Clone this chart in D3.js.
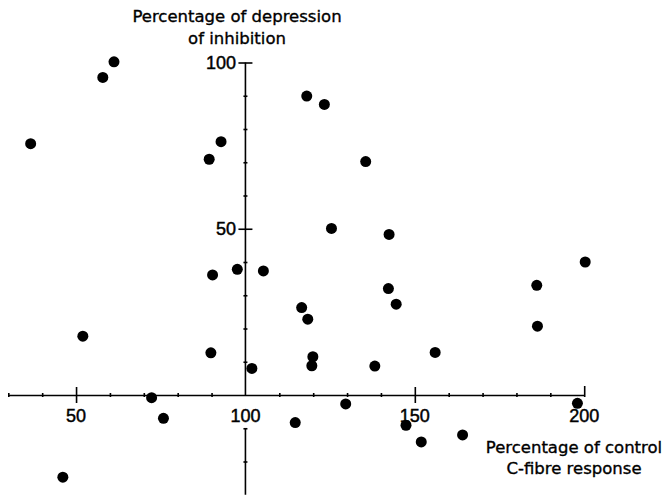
<!DOCTYPE html>
<html>
<head>
<meta charset="utf-8">
<script src="https://cdn.jsdelivr.net/npm/d3@7"></script>
<style>
  html, body { margin: 0; padding: 0; background: #fff; }
  svg { display: block; }
  .tick-label { font-family: "Liberation Sans", Arial, sans-serif; font-size: 18px; fill: #000; stroke: #000; stroke-width: 0.45px; }
  .title { font-family: "DejaVu Sans", sans-serif; font-size: 16.5px; fill: #000; stroke: #000; stroke-width: 0.35px; }
</style>
</head>
<body>
<svg id="chart" width="668" height="495"></svg>
<script>
// C-fibre response (% of control) against depression of inhibition (%)
const cFibreResponse = [
  36.6, 57.9, 61.2, 52.0, 46.1, 72.3, 75.8, 89.3, 92.8, 90.3,
  97.6, 105.3, 89.8, 101.9, 118.1, 123.3, 125.4, 116.6, 118.4, 119.9,
  119.6, 114.7, 129.6, 135.5, 142.4, 142.2, 144.5, 138.2, 156.0, 147.4,
  151.9, 164.1, 186.0, 186.2, 200.3, 198.0
];
const depressionOfInhibition = [
  75.6, 95.5, 100.2, 17.7, -24.7, -0.8, -7.0, 70.9, 76.2, 36.1,
  37.8, 37.3, 12.7, 8.0, 89.9, 87.4, 50.1, 26.3, 22.8, 11.5,
  8.8, -8.3, -2.7, 70.2, 48.3, 32.0, 27.3, 8.7, 12.8, -9.1,
  -14.1, -12.0, 33.0, 20.7, 40.0, -2.5
];

const xMinorTicks = [30, 40, 60, 70, 80, 90, 110, 120, 130, 140, 160, 170, 180, 190];
const xMajorTicks = [50, 150];
const xEndTick = [200];
const xTickLabels = [50, 100, 150, 200];
const yMinorTicks = [-20, -10, 10, 20, 30, 40, 60, 70, 80, 90];
const yMajorTicks = [50, 100];
const yTickLabels = [50, 100];
const yTitleLines = ["Percentage of depression", "of inhibition"];
const xTitleLines = ["Percentage of control", "C-fibre response"];

const svg = d3.select("#chart");

const x = d3.scaleLinear().domain([30, 200]).range([8.3, 584.2]);
const y = d3.scaleLinear().domain([-30, 100]).range([494.75, 62.5]);

const stroke = 1.6;

// ---- horizontal axis, crossing at zero ----
const xAxisG = svg.append("g").attr("transform", `translate(0,${y(0)})`);

const xMinorG = xAxisG.append("g")
  .call(d3.axisBottom(x).tickValues(xMinorTicks).tickSize(2).tickSizeOuter(0).tickFormat(""));
xMinorG.select(".domain").attr("stroke", "#000").attr("stroke-width", stroke);
xMinorG.selectAll(".tick line").attr("y1", -2).attr("stroke-width", 1.6);

const xMajorG = xAxisG.append("g")
  .call(d3.axisBottom(x).tickValues(xMajorTicks).tickSize(8).tickSizeOuter(0).tickFormat(""));
xMajorG.select(".domain").remove();
xMajorG.selectAll(".tick line").attr("y1", -8).attr("stroke-width", stroke);

const xEndG = xAxisG.append("g")
  .call(d3.axisBottom(x).tickValues(xEndTick).tickSize(2).tickSizeOuter(0).tickFormat(""));
xEndG.select(".domain").remove();
xEndG.selectAll(".tick line").attr("y1", -9).attr("stroke-width", stroke);

svg.append("g").selectAll("text")
  .data(xTickLabels)
  .join("text")
  .attr("class", "tick-label")
  .attr("x", d => x(d))
  .attr("y", y(0) + 27)
  .attr("text-anchor", "middle")
  .text(d => d);

// ---- vertical axis at 100 % of control ----
const yAxisG = svg.append("g").attr("transform", `translate(${x(100)},0)`);

// upper segment (0 to 100) and lower segment below the "100" label
yAxisG.append("line")
  .attr("x1", 0).attr("x2", 0)
  .attr("y1", y(100)).attr("y2", y(0))
  .attr("stroke", "#000").attr("stroke-width", stroke);
yAxisG.append("line")
  .attr("x1", 0).attr("x2", 0)
  .attr("y1", y(-10)).attr("y2", y(-30))
  .attr("stroke", "#000").attr("stroke-width", stroke);

const yMinorG = yAxisG.append("g")
  .call(d3.axisLeft(y).tickValues(yMinorTicks).tickSize(2).tickSizeOuter(0).tickFormat(""));
yMinorG.select(".domain").remove();
yMinorG.selectAll(".tick line").attr("x1", 2).attr("stroke-width", 1.6);

const yMajorG = yAxisG.append("g")
  .call(d3.axisLeft(y).tickValues(yMajorTicks).tickSize(7).tickSizeOuter(0).tickFormat(""));
yMajorG.select(".domain").remove();
yMajorG.selectAll(".tick line").attr("x1", 7).attr("stroke-width", stroke);

svg.append("g").selectAll("text")
  .data(yTickLabels)
  .join("text")
  .attr("class", "tick-label")
  .attr("x", x(100) - 9.5)
  .attr("y", d => y(d) + 6.2)
  .attr("text-anchor", "end")
  .text(d => d);

// ---- axis titles ----
svg.append("text")
  .attr("class", "title")
  .attr("text-anchor", "middle")
  .selectAll("tspan")
  .data(yTitleLines)
  .join("tspan")
  .attr("x", 237)
  .attr("y", (d, i) => 22 + i * 21.5)
  .text(d => d);

svg.append("text")
  .attr("class", "title")
  .attr("text-anchor", "middle")
  .selectAll("tspan")
  .data(xTitleLines)
  .join("tspan")
  .attr("x", 574)
  .attr("y", (d, i) => 453 + i * 21)
  .text(d => d);

// ---- observations ----
svg.append("g").selectAll("circle")
  .data(d3.zip(cFibreResponse, depressionOfInhibition))
  .join("circle")
  .attr("cx", d => x(d[0]))
  .attr("cy", d => y(d[1]))
  .attr("r", 5.5)
  .attr("fill", "#000");
</script>
</body>
</html>
